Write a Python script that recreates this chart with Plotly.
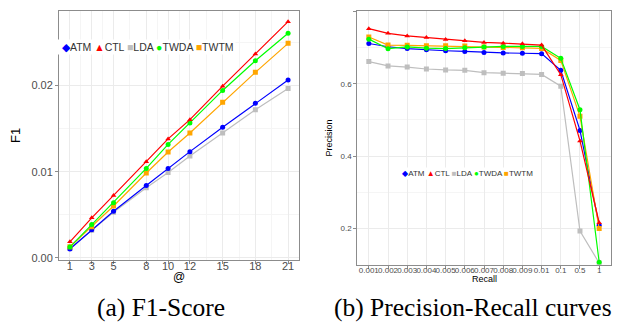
import plotly.graph_objects as go

# ---------------- data ----------------
methods = ["ATM", "CTL", "LDA", "TWDA", "TWTM"]
colors = {"ATM": "#0000FF", "CTL": "#FF0000", "LDA": "#BEBEBE", "TWDA": "#00FF00", "TWTM": "#FFA500"}
symbols = {"ATM": "circle", "CTL": "triangle-up", "LDA": "square", "TWDA": "circle", "TWTM": "square"}
glyphs = {"ATM": "◆", "CTL": "▲", "LDA": "■", "TWDA": "●", "TWTM": "■"}

at_k = [1, 3, 5, 8, 10, 12, 15, 18, 21]
f1_atm = [0.00103, 0.00328, 0.00542, 0.0084, 0.01038, 0.01233, 0.01515, 0.01794, 0.02065]
f1_ctl = [0.00187, 0.00465, 0.00725, 0.01115, 0.01381, 0.01604, 0.01993, 0.02367, 0.02741]
f1_lda = [0.0011, 0.0032, 0.0053, 0.00813, 0.00992, 0.01183, 0.0145, 0.01718, 0.01966]
f1_twda = [0.00126, 0.00389, 0.00641, 0.01038, 0.01317, 0.01565, 0.01943, 0.02287, 0.02607]
f1_twtm = [0.0013, 0.00362, 0.00603, 0.00985, 0.01229, 0.0145, 0.01805, 0.02153, 0.02489]

recall = ["0.001", "0.002", "0.003", "0.004", "0.005", "0.006", "0.007", "0.008", "0.009",
          "0.01", "0.1", "0.5", "1"]
pr_atm = [0.711, 0.702, 0.697, 0.6935, 0.691, 0.689, 0.686, 0.685, 0.684, 0.683, 0.637, 0.471, 0.209]
pr_ctl = [0.752, 0.739, 0.732, 0.7275, 0.722, 0.7185, 0.714, 0.712, 0.710, 0.7065, 0.625, 0.442, 0.216]
pr_lda = [0.661, 0.649, 0.646, 0.6405, 0.638, 0.637, 0.6305, 0.629, 0.628, 0.6255, 0.593, 0.193, 0.105]
pr_twda = [0.723, 0.6967, 0.7015, 0.698, 0.697, 0.699, 0.7015, 0.703, 0.703, 0.703, 0.670, 0.528, 0.107]
pr_twtm = [0.729, 0.7065, 0.706, 0.705, 0.705, 0.704, 0.701, 0.700, 0.699, 0.6975, 0.664, 0.510, 0.200]

f1 = {"ATM": f1_atm, "CTL": f1_ctl, "LDA": f1_lda, "TWDA": f1_twda, "TWTM": f1_twtm}
pr = {"ATM": pr_atm, "CTL": pr_ctl, "LDA": pr_lda, "TWDA": pr_twda, "TWTM": pr_twtm}

left_xticks = [1, 3, 5, 8, 10, 12, 15, 18, 21]
left_yticks = [0.0, 0.01, 0.02]
left_ytext = ["0.00", "0.01", "0.02"]
right_yticks = [0.2, 0.4, 0.6, 0.8]

# ---------------- figure ----------------
W, H = 621, 322
fig = go.Figure()

draw_order = ["LDA", "ATM", "TWTM", "TWDA", "CTL"]
for m in draw_order:
    fig.add_trace(go.Scatter(x=at_k, y=f1[m], mode="lines+markers", name=m,
                             line=dict(color=colors[m], width=1.2),
                             marker=dict(symbol=symbols[m], size=5, color=colors[m]),
                             xaxis="x", yaxis="y", showlegend=False))
for m in draw_order:
    fig.add_trace(go.Scatter(x=recall, y=pr[m], mode="lines+markers", name=m,
                             line=dict(color=colors[m], width=1.2),
                             marker=dict(symbol=symbols[m], size=5, color=colors[m]),
                             xaxis="x2", yaxis="y2", showlegend=False))

grid = "#EBEBEB"
border = "#8C8C8C"
tickc = "#4D4D4D"

def px_x(p):
    return p / W

def px_y(p):
    return 1 - p / H

common = dict(showline=True, linecolor=border, linewidth=1, mirror=True,
              gridcolor=grid, gridwidth=1, zeroline=False,
              ticks="outside", ticklen=3, tickcolor=border)

fig.update_layout(
    width=W, height=H, margin=dict(l=0, r=0, t=0, b=0),
    paper_bgcolor="white", plot_bgcolor="white",
    font=dict(family="Liberation Sans, Arial, sans-serif", color="black"),
    xaxis=dict(domain=[px_x(51), px_x(291)], anchor="y", range=[0, 22],
               tickmode="array", tickvals=left_xticks,
               tickfont=dict(size=11, color=tickc), ticklabelstandoff=-7,
               minor=dict(tickmode="array", tickvals=[2, 4, 6.5, 9, 11, 13.5, 16.5, 19.5],
                          showgrid=True, gridcolor="#F5F5F5", gridwidth=1, ticks=""),
               **common),
    yaxis=dict(domain=[px_y(255), px_y(3)], anchor="x", range=[-0.00022, 0.02865],
               tickmode="array", tickvals=left_yticks, ticktext=left_ytext,
               tickfont=dict(size=11, color=tickc),
               minor=dict(tickmode="array", tickvals=[0.005, 0.015, 0.025],
                          showgrid=True, gridcolor="#F5F5F5", gridwidth=1, ticks=""),
               title=dict(text="F1", font=dict(size=13), standoff=7),
               **common),
    xaxis2=dict(domain=[px_x(349.3), px_x(602.7)], anchor="y2", type="category",
                range=[-0.6, 12.6], tickangle=0,
                tickfont=dict(size=8, color=tickc), ticklabelstandoff=-5,
                **common),
    yaxis2=dict(domain=[px_y(260), px_y(3.3)], anchor="x2", range=[0.1, 0.8],
                tickmode="array", tickvals=right_yticks,
                tickfont=dict(size=8, color=tickc),
                minor=dict(tickmode="array", tickvals=[0.3, 0.5, 0.7],
                           showgrid=True, gridcolor="#F5F5F5", gridwidth=1, ticks=""),
                title=dict(text="Precision", font=dict(size=9), standoff=6),
                **common),
)

# x-axis titles placed as annotations
fig.add_annotation(xref="paper", yref="paper", x=px_x(171), y=px_y(272), xanchor="center", yanchor="middle",
                   text="@", showarrow=False, font=dict(size=12, color="black"))
fig.add_annotation(xref="paper", yref="paper", x=px_x(476), y=px_y(274), xanchor="center", yanchor="middle",
                   text="Recall", showarrow=False, font=dict(size=9, color="black"))

def legend_text():
    parts = []
    for m in methods:
        parts.append(f'<span style="color:{colors[m]}"> {glyphs[m]}</span>{m}')
    return "".join(parts)

fig.add_annotation(xref="paper", yref="paper", x=px_x(49), y=px_y(39), xanchor="left", yanchor="middle",
                   text=legend_text(), showarrow=False, bgcolor="white",
                   font=dict(size=10.5, color="#333333"), borderpad=1)
fig.add_annotation(xref="paper", yref="paper", x=px_x(390), y=px_y(168), xanchor="left", yanchor="middle",
                   text=legend_text(), showarrow=False, bgcolor="white",
                   font=dict(size=8, color="#333333"), borderpad=1)

fig.add_annotation(xref="paper", yref="paper", x=px_x(153), y=px_y(303), xanchor="center", yanchor="middle",
                   text="(a) F1-Score", showarrow=False,
                   font=dict(size=25.5, family="Liberation Serif", color="black"))
fig.add_annotation(xref="paper", yref="paper", x=px_x(465), y=px_y(303), xanchor="center", yanchor="middle",
                   text="(b) Precision-Recall curves", showarrow=False,
                   font=dict(size=25.5, family="Liberation Serif", color="black"))

fig.write_html("out.html")
